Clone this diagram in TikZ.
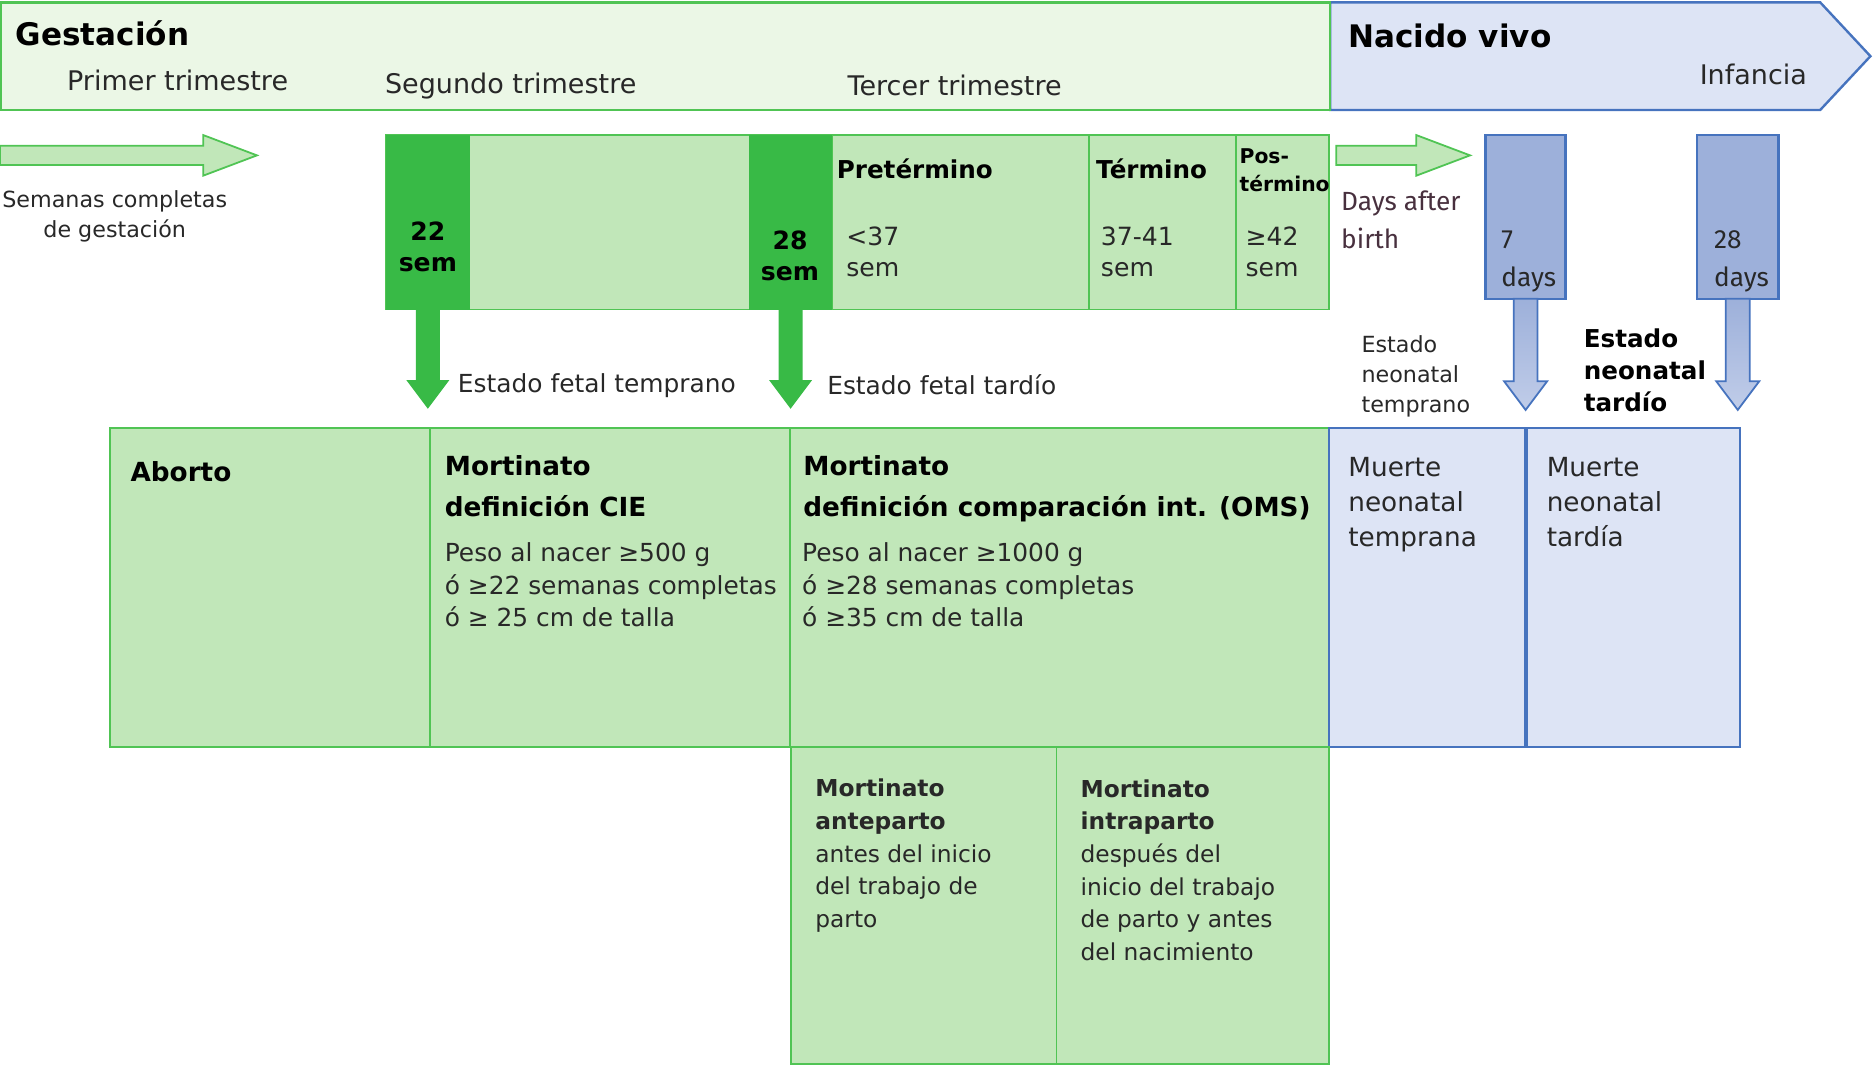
\documentclass[tikz,border=0pt]{standalone}
\usepackage{fontspec}
\setmainfont{DejaVu Sans}
\newfontfamily\daysfont{Fira Sans}
\usetikzlibrary{positioning}

\definecolor{gline}{RGB}{80,196,84}
\definecolor{gpale}{RGB}{235,247,230}
\definecolor{gmid}{RGB}{193,231,185}
\definecolor{gdark}{RGB}{56,186,70}
\definecolor{bline}{RGB}{70,115,190}
\definecolor{bpale}{RGB}{221,228,245}
\definecolor{bmid}{RGB}{157,176,218}
\definecolor{txtgray}{RGB}{40,40,40}
\definecolor{daysc}{RGB}{72,48,62}

\newcommand{\ftitle}{\fontsize{26}{30}\selectfont\bfseries}
\newcommand{\ftri}{\fontsize{22.6}{28}\selectfont}
\newcommand{\fbody}{\fontsize{20.8}{27}\selectfont}
\newcommand{\fhead}{\fontsize{22}{34}\selectfont\bfseries}
\newcommand{\fsmall}{\fontsize{18.6}{25}\selectfont}
\newcommand{\flow}{\fontsize{19.5}{27.3}\selectfont}
\newcommand{\fcell}{\fontsize{21}{26}\selectfont}
\newcommand{\fdays}{\daysfont\fontsize{22}{32}\selectfont}

\newcommand{\blockdown}[3]{\path[#1] (#2) ++(-10,0) -- ++(0,#3-24) -- ++(-8,0) -- ++(18,24) -- ++(18,-24) -- ++(-8,0) -- ++(0,24-#3) -- cycle;}
\newcommand{\blockright}[3]{\path[#1] (#2) ++(0,-8) -- ++(#3-45,0) -- ++(0,-9) -- ++(45,17) -- ++(-45,17) -- ++(0,-9) -- ++(45-#3,0) -- cycle;}

\tikzstyle{box} = [rectangle, anchor=north west, inner sep=0pt, outer sep=0pt]
\tikzstyle{gbox} = [box, draw=gline, fill=gmid, line width=1.5pt]
\tikzstyle{bbox} = [box, draw=bline, fill=bpale, line width=1.5pt]
\tikzstyle{wk} = [box, fill=gdark]
\tikzstyle{dy} = [box, draw=bline, fill=bmid, line width=2pt]
\tikzstyle{txt} = [anchor=base west, inner sep=0pt, align=left, text=txtgray]
\tikzstyle{hd} = [anchor=base west, inner sep=0pt, align=left, text=black]

\begin{document}
\begin{tikzpicture}[x=1pt, y=-1pt]
\useasboundingbox (0,0) rectangle (1568,892);

\coordinate (nac) at (1113,2);
\draw[bline, fill=bpale, line width=2pt] (nac) -- ++(410,0) -- ++(42,45) -- ++(-42,45) -- ++(-410,0) -- cycle;
\node[box, draw=gline, fill=gpale, line width=2pt, minimum width=1112pt, minimum height=90pt] (gest) at (1,2) {};

\node[hd, font=\ftitle] (tgest) at (13,38) {Gestación};
\node[txt, font=\ftri] (tpri) at (56,76) {Primer trimestre};
\node[txt, font=\ftri] (tseg) at (322,78) {Segundo trimestre};
\node[txt, font=\ftri] (tter) at (709,80) {Tercer trimestre};
\node[hd, font=\ftitle] (tnac) at (1128,40) {Nacido vivo};
\node[txt, font=\ftri] (tinf) at (1422,71) {Infancia};

\coordinate (wk0) at (0,130);
\blockright{fill=gmid, draw=gline, line width=1.5pt}{wk0}{215}
\node[txt, font=\fsmall, align=center, anchor=base] (tsem) at (96,199) {Semanas completas\\de gestación};

\node[gbox, minimum width=789pt, minimum height=146pt] (band) at (323,113) {};
\node[gbox, minimum width=215pt, minimum height=146pt] (pre) at (696,113) {};
\node[gbox, minimum width=123pt, minimum height=146pt] (ter) at (911,113) {};
\node[gbox, minimum width=78pt, minimum height=146pt] (pos) at (1034,113) {};
\node[wk, minimum width=70pt, minimum height=146pt] (s22) at (323,113) {};
\node[wk, minimum width=69pt, minimum height=146pt] (s28) at (627,113) {};

\node[hd, font=\fcell\bfseries, align=center, anchor=base] at (358,227) {22\\sem};
\node[hd, font=\fcell\bfseries, align=center, anchor=base] at (661,235) {28\\sem};
\node[hd, font=\fontsize{20.6}{26}\selectfont\bfseries] (tpre) at (700,149) {Pretérmino};
\node[txt, font=\fcell] at (708,231) {<37\\sem};
\node[hd, font=\fontsize{20.6}{26}\selectfont\bfseries] (tter2) at (917,149) {Término};
\node[txt, font=\fcell] at (921,231) {37-41\\sem};
\node[hd, font=\fontsize{17}{23}\selectfont\bfseries] (tpos) at (1037,160) {Pos-\\término};
\node[txt, font=\fcell] at (1042,231) {≥42\\sem};

\blockdown{fill=gdark}{s22.south}{83}
\blockdown{fill=gdark}{s28.south}{83}
\node[txt, font=\fbody] (eft) at (383,328) {Estado fetal temprano};
\node[txt, font=\fbody] (efl) at (692,330) {Estado fetal tardío};

\coordinate (db) at (1118,130);
\blockright{fill=gmid, draw=gline, line width=1.5pt}{db}{112}
\node[txt, font=\fdays, text=daysc] (tdays) at (1122,208) {Days after\\birth};

\node[dy, minimum width=67pt, minimum height=137pt] (d7) at (1243,113) {};
\node[dy, minimum width=68pt, minimum height=137pt] (d28) at (1420,113) {};
\node[txt, font=\fdays] at (1256,240) {7\\days};
\node[txt, font=\fdays] at (1434,240) {28\\days};
\blockdown{draw=bline, line width=1.5pt, top color=bmid, bottom color=bmid!45!bpale}{d7.south}{93}
\blockdown{draw=bline, line width=1.5pt, top color=bmid, bottom color=bmid!45!bpale}{d28.south}{93}
\node[txt, font=\fsmall] (ent) at (1139,345) {Estado\\neonatal\\temprano};
\node[hd, font=\fontsize{20.6}{26.5}\selectfont\bfseries] (end) at (1325,344) {Estado\\neonatal\\tardío};

\node[gbox, minimum width=268pt, minimum height=267pt] (abor) at (92,358) {};
\node[gbox, minimum width=301pt, minimum height=267pt] (cie) at (360,358) {};
\node[gbox, minimum width=451pt, minimum height=267pt] (oms) at (661,358) {};
\node[bbox, minimum width=165pt, minimum height=267pt] (mnt) at (1112,358) {};
\node[bbox, minimum width=179pt, minimum height=267pt] (mnd) at (1277,358) {};
\draw[bline, line width=3pt] (mnd.north west) -- (mnd.south west);
\node[gbox, minimum width=222pt, minimum height=265pt] (ante) at (662,625) {};
\node[gbox, minimum width=228pt, minimum height=265pt] (intra) at (884,625) {};

\node[hd, font=\fhead] at (109,403) {Aborto};
\node[hd, font=\fhead] at (372,432) {Mortinato\\definición CIE};
\node[txt, font=\fbody] at (372,524) {Peso al nacer ≥500 g\\ó ≥22 semanas completas\\ó ≥ 25 cm de talla};
\node[hd, font=\fhead] at (672,432) {Mortinato\\definición comparación int. (OMS)};
\node[txt, font=\fbody] at (671,524) {Peso al nacer ≥1000 g\\ó ≥28 semanas completas\\ó ≥35 cm de talla};
\node[txt, font=\fontsize{22}{29}\selectfont] at (1128,457) {Muerte\\neonatal\\temprana};
\node[txt, font=\fontsize{22}{29}\selectfont] at (1294,457) {Muerte\\neonatal\\tardía};
\node[txt, font=\flow] at (682,776) {\textbf{Mortinato}\\\textbf{anteparto}\\antes del inicio\\del trabajo de\\parto};
\node[txt, font=\flow] at (904,803.5) {\textbf{Mortinato}\\\textbf{intraparto}\\después del\\inicio del trabajo\\de parto y antes\\del nacimiento};
\end{tikzpicture}
\end{document}
